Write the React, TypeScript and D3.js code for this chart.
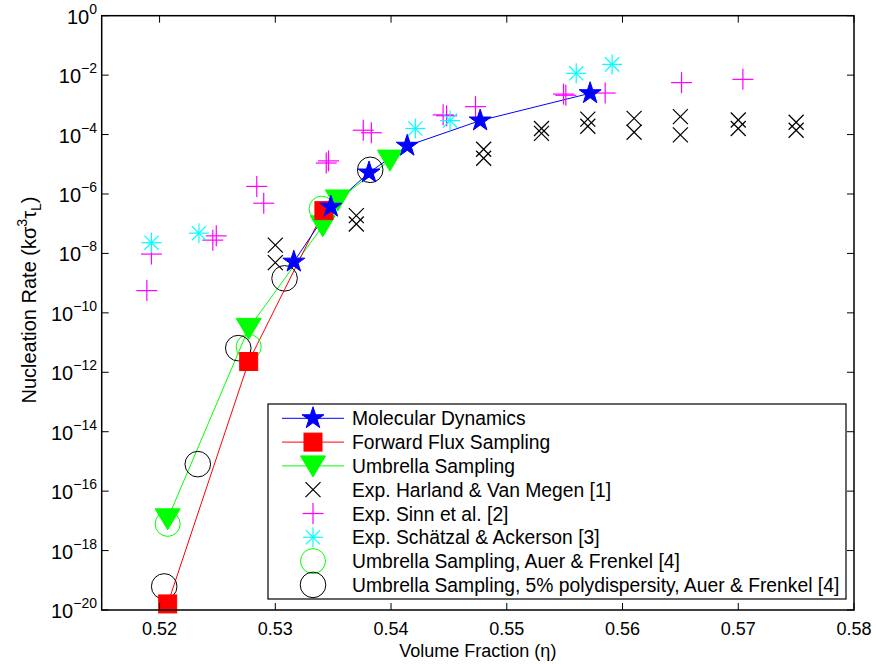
import React from "react";
import * as d3 from "d3";

// ---- data (volume fraction, nucleation rate) ----
const mdX = [0.5316, 0.5348, 0.5381, 0.5414, 0.5477, 0.5572];
const mdY = [5.25e-9, 3.7e-7, 5.25e-6, 4.17e-5, 2.95e-4, 2.45e-3];

const ffsX = [0.5207, 0.5277, 0.5342];
const ffsY = [1.6e-20, 2.3e-12, 2.75e-7];

const usX = [0.5207, 0.5277, 0.5341, 0.5354, 0.5399];
const usY = [1.17e-17, 3.0e-11, 8.5e-8, 6.3e-7, 1.38e-5];

const harlandX = [0.530, 0.530, 0.537, 0.537, 0.548, 0.548, 0.553, 0.553, 0.557, 0.557, 0.561, 0.561, 0.565, 0.565, 0.570, 0.570, 0.575, 0.575];
const harlandY = [1.9e-8, 4.9e-9, 1.86e-7, 9.8e-8, 3.2e-5, 1.6e-5, 1.6e-4, 1.1e-4, 3.3e-4, 1.9e-4, 3.5e-4, 1.2e-4, 4.0e-4, 9.8e-5, 3.1e-4, 1.6e-4, 2.6e-4, 1.4e-4];

const sinnX = [0.5189, 0.5193, 0.5246, 0.5249, 0.5284, 0.5290, 0.5344, 0.5346, 0.5376, 0.5383, 0.5445, 0.5448, 0.5473, 0.5549, 0.5551, 0.5585, 0.5651, 0.5704];
const sinnY = [5.6e-10, 9.5e-9, 2.8e-8, 3.9e-8, 1.8e-6, 4.9e-7, 1.1e-5, 1.3e-5, 1.4e-4, 1.15e-4, 4.6e-4, 4.3e-4, 8.7e-4, 2.3e-3, 2.1e-3, 2.5e-3, 5.6e-3, 7.2e-3];

const schX = [0.5193, 0.5234, 0.5421, 0.5451, 0.5560, 0.5591];
const schY = [2.3e-8, 4.8e-8, 1.6e-4, 2.95e-4, 1.15e-2, 2.3e-2];

const auerX = [0.5207, 0.5277, 0.5340];
const auerY = [7.9e-18, 7.2e-12, 3.2e-7];

const polyX = [0.5204, 0.5233, 0.5268, 0.5308, 0.5382];
const polyY = [6.2e-20, 8.1e-16, 6.5e-12, 1.45e-9, 6.5e-6];

const xTicks = [0.52, 0.53, 0.54, 0.55, 0.56, 0.57, 0.58];
const yTickExps = [0, -2, -4, -6, -8, -10, -12, -14, -16, -18, -20];

const legendLabels = [
  "Molecular Dynamics",
  "Forward Flux Sampling",
  "Umbrella Sampling",
  "Exp. Harland & Van Megen [1]",
  "Exp. Sinn et al. [2]",
  "Exp. Schätzal & Ackerson [3]",
  "Umbrella Sampling, Auer & Frenkel [4]",
  "Umbrella Sampling, 5% polydispersity, Auer & Frenkel [4]",
];

const W = 876;
const H = 664;
const L = 101.7, R = 854, T = 15.7, B = 610;
const FONT = "'Liberation Sans', Arial, Helvetica, sans-serif";

const BLUE = "#0000ff", RED = "#ff0000", GREEN = "#00ff00", MAG = "#ff00ff", CYAN = "#00ffff";

type Kind = "star" | "square" | "tri" | "x" | "plus" | "ast" | "gcircle" | "kcircle";

const starPath = d3.symbol().type(d3.symbolStar).size(150)() as string;

function Marker({ kind, cx, cy }: { kind: Kind; cx: number; cy: number }) {
  const t = `translate(${cx},${cy})`;
  switch (kind) {
    case "star":
      return <path d={starPath} transform={t} fill={BLUE} stroke={BLUE} strokeWidth={1} />;
    case "square":
      return <rect x={cx - 9} y={cy - 9} width={18} height={18} fill={RED} stroke={RED} />;
    case "tri":
      return <path d="M-12.5,-10 L12.5,-10 L0,11 Z" transform={t} fill={GREEN} stroke={GREEN} />;
    case "x": {
      const s = 7.5;
      return (
        <g transform={t} stroke="#000" strokeWidth={1.2}>
          <line x1={-s} y1={-s} x2={s} y2={s} />
          <line x1={-s} y1={s} x2={s} y2={-s} />
        </g>
      );
    }
    case "plus": {
      const s = 10.5;
      return (
        <g transform={t} stroke={MAG} strokeWidth={1.2}>
          <line x1={-s} y1={0} x2={s} y2={0} />
          <line x1={0} y1={-s} x2={0} y2={s} />
        </g>
      );
    }
    case "ast": {
      const s = 10, d = 7.1;
      return (
        <g transform={t} stroke={CYAN} strokeWidth={1.2}>
          <line x1={-s} y1={0} x2={s} y2={0} />
          <line x1={0} y1={-s} x2={0} y2={s} />
          <line x1={-d} y1={-d} x2={d} y2={d} />
          <line x1={-d} y1={d} x2={d} y2={-d} />
        </g>
      );
    }
    case "gcircle":
      return <circle cx={cx} cy={cy} r={12.5} fill="none" stroke={GREEN} strokeWidth={1} />;
    case "kcircle":
      return <circle cx={cx} cy={cy} r={12.8} fill="none" stroke="#000" strokeWidth={1} />;
  }
  return null;
}

export default function App() {
  const x = d3.scaleLinear().domain([0.515, 0.58]).range([L, R]);
  const y = d3.scaleLog().domain([1e-20, 1]).range([B, T]);
  const line = d3.line<[number, number]>().x((d) => x(d[0])).y((d) => y(d[1]));
  const pts = (xs: number[], ys: number[]) => xs.map((v, i) => [v, ys[i]] as [number, number]);

  const series: { xs: number[]; ys: number[]; kind: Kind }[] = [
    { xs: harlandX, ys: harlandY, kind: "x" },
    { xs: sinnX, ys: sinnY, kind: "plus" },
    { xs: schX, ys: schY, kind: "ast" },
  ];

  const legendKinds: Kind[] = ["star", "square", "tri", "x", "plus", "ast", "gcircle", "kcircle"];
  const legendColors = [BLUE, RED, GREEN];
  const lgX0 = 268, lgY0 = 404, lgX1 = 846, lgY1 = 599;
  const rowY = (i: number) => 418.3 + i * 23.8;

  const tick = 7;

  return (
    <svg width={W} height={H} style={{ position: "absolute", left: 0, top: 0, background: "#fff" }} fontFamily={FONT}>
      <rect x={0} y={0} width={W} height={H} fill="#fff" />
      {/* lines */}
      <path d={line(pts(usX, usY)) as string} fill="none" stroke={GREEN} strokeWidth={1} />
      <path d={line(pts(ffsX, ffsY)) as string} fill="none" stroke={RED} strokeWidth={1} />
      <path d={line(pts(mdX, mdY)) as string} fill="none" stroke={BLUE} strokeWidth={1} />
      {/* experiment markers */}
      {series.map((s, si) =>
        s.xs.map((v, i) => <Marker key={`s${si}-${i}`} kind={s.kind} cx={x(v)} cy={y(s.ys[i])} />)
      )}
      {/* circles */}
      {auerX.map((v, i) => <Marker key={`a${i}`} kind="gcircle" cx={x(v)} cy={y(auerY[i])} />)}
      {polyX.map((v, i) => <Marker key={`p${i}`} kind="kcircle" cx={x(v)} cy={y(polyY[i])} />)}
      {/* simulation markers */}
      {usX.map((v, i) => <Marker key={`u${i}`} kind="tri" cx={x(v)} cy={y(usY[i])} />)}
      {ffsX.map((v, i) => <Marker key={`f${i}`} kind="square" cx={x(v)} cy={y(ffsY[i])} />)}
      {mdX.map((v, i) => <Marker key={`m${i}`} kind="star" cx={x(v)} cy={y(mdY[i])} />)}

      {/* axes box */}
      <rect x={L} y={T} width={R - L} height={B - T} fill="none" stroke="#000" strokeWidth={1.5} />
      {xTicks.map((v) => (
        <g key={`xt${v}`}>
          <line x1={x(v)} x2={x(v)} y1={B} y2={B - tick} stroke="#000" />
          <line x1={x(v)} x2={x(v)} y1={T} y2={T + tick} stroke="#000" />
          <text x={x(v)} y={B + 25} textAnchor="middle" fontSize={18} fill="#000">
            {v.toFixed(2)}
          </text>
        </g>
      ))}
      {yTickExps.map((e) => {
        const yy = y(Math.pow(10, e));
        return (
          <g key={`yt${e}`}>
            <line x1={L} x2={L + tick} y1={yy} y2={yy} stroke="#000" />
            <line x1={R} x2={R - tick} y1={yy} y2={yy} stroke="#000" />
            <text x={97} y={yy + 8} textAnchor="end" fontSize={20} fill="#000">
              10
              <tspan dy={-10} fontSize={14}>
                {e === 0 ? "0" : `−${-e}`}
              </tspan>
            </text>
          </g>
        );
      })}

      {/* axis labels */}
      <text x={(L + R) / 2} y={657} textAnchor="middle" fontSize={18} fill="#000">
        Volume Fraction (η)
      </text>
      <text transform={`translate(36,300) rotate(-90)`} textAnchor="middle" fontSize={20} fill="#000">
        Nucleation Rate (kσ
        <tspan dy={-9} fontSize={14}>3</tspan>
        <tspan dy={9}>τ</tspan>
        <tspan dy={5} fontSize={14}>L</tspan>
        <tspan dy={-5}>)</tspan>
      </text>

      {/* legend */}
      <rect x={lgX0} y={lgY0} width={lgX1 - lgX0} height={lgY1 - lgY0} fill="#fff" stroke="#000" strokeWidth={1.2} />
      {legendLabels.map((lab, i) => {
        const yc = rowY(i);
        return (
          <g key={`lg${i}`}>
            {i < 3 && <line x1={282} x2={344} y1={yc} y2={yc} stroke={legendColors[i]} strokeWidth={1} />}
            <Marker kind={legendKinds[i]} cx={313} cy={yc} />
            <text x={352} y={yc + 7} fontSize={19.3} fill="#000">
              {lab}
            </text>
          </g>
        );
      })}
    </svg>
  );
}
